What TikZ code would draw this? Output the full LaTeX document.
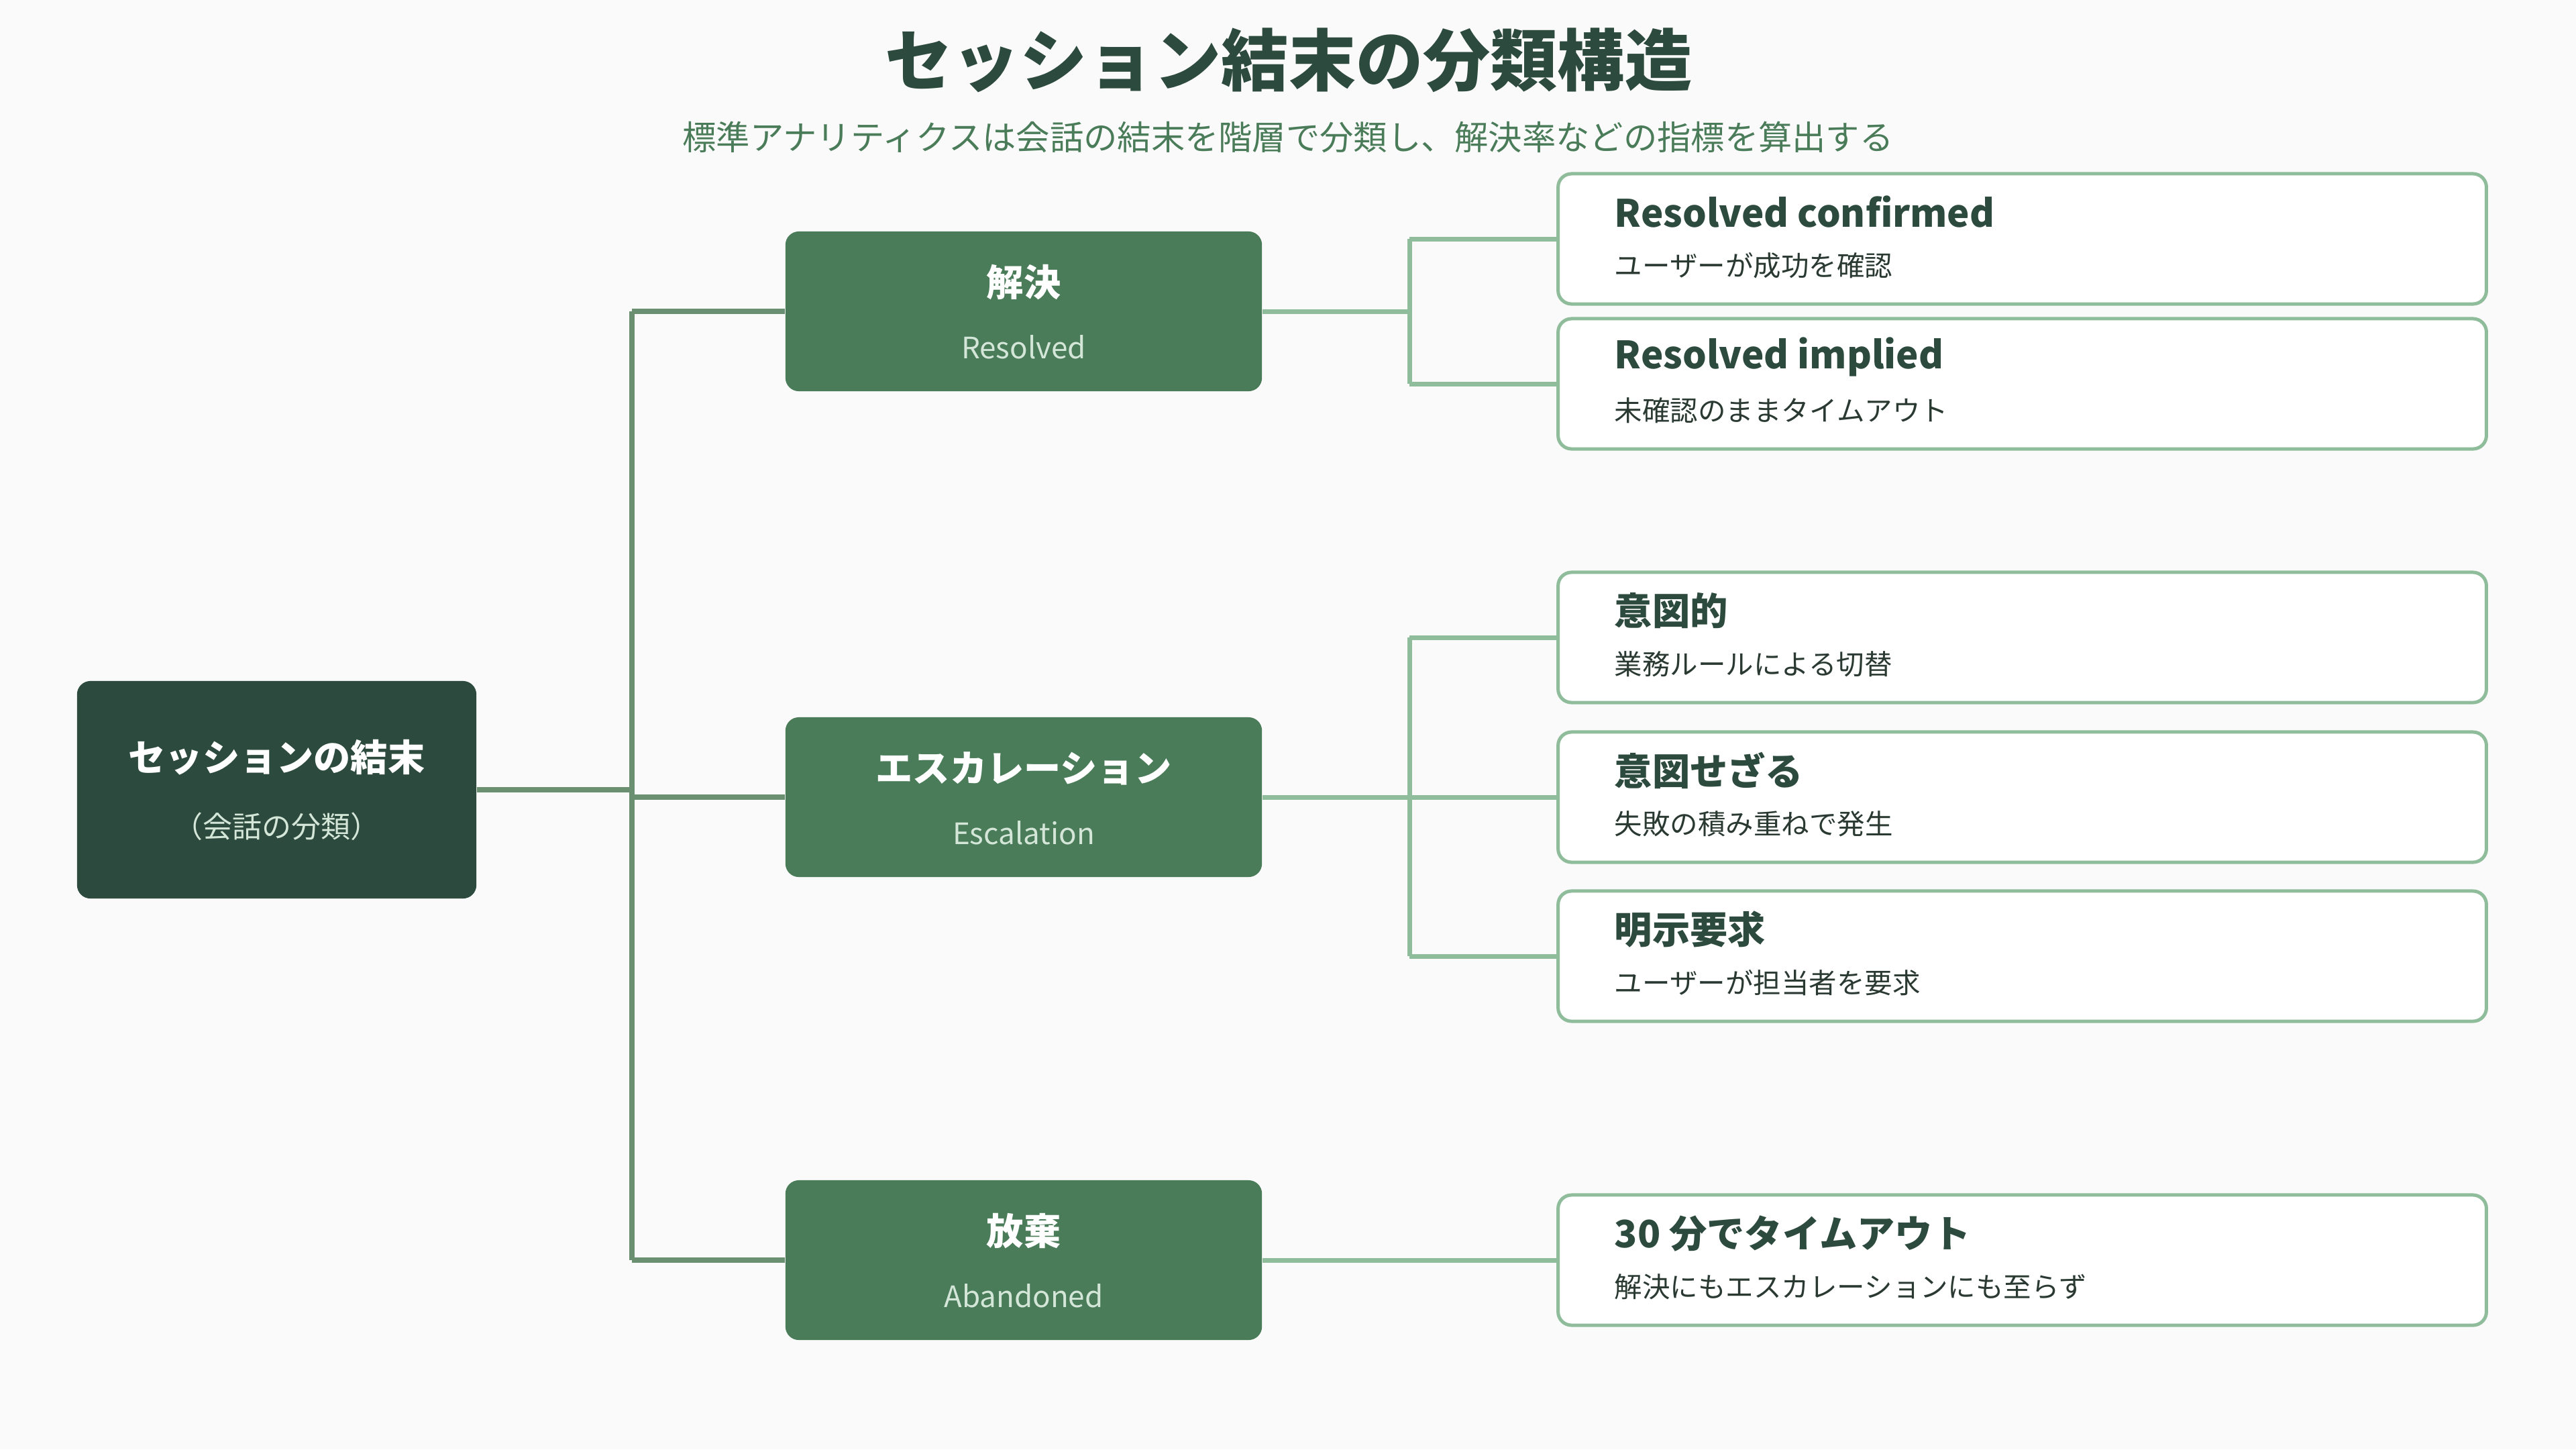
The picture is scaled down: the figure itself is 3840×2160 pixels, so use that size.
\documentclass[tikz,border=0pt]{standalone}
\usepackage{fontspec}
\setmainfont{Noto Sans CJK JP}
\usetikzlibrary{calc}
\definecolor{bgc}{HTML}{FAFAFA}
\definecolor{rootc}{HTML}{2D4A3E}
\definecolor{midc}{HTML}{4A7C59}
\definecolor{leafc}{HTML}{8FBC9A}
\definecolor{trunkc}{HTML}{6B8F71}
\definecolor{subc}{HTML}{D4E6D8}
\definecolor{descc}{HTML}{2A3A32}
\pgfdeclarelayer{bglayer}
\pgfdeclarelayer{linelayer}
\pgfsetlayers{bglayer,linelayer,main}
\tikzset{
  rootbox/.style={fill=rootc, rounded corners=0.2cm, minimum width=5.95cm, minimum height=3.24cm, inner sep=0pt},
  midbox/.style={fill=midc, rounded corners=0.2cm, minimum width=7.1cm, minimum height=2.38cm, inner sep=0pt},
  leafbox/.style={fill=white, draw=leafc, line width=0.05cm, rounded corners=0.2cm, minimum width=13.83cm, minimum height=1.94cm, inner sep=0pt},
  boxtitle/.style={text=white, font=\fontsize{15.7}{19}\selectfont\bfseries, inner sep=0pt},
  boxsub/.style={text=subc, font=\fontsize{12.5}{15}\selectfont, inner sep=0pt},
  leaftitle/.style={text=rootc, font=\fontsize{16}{19}\selectfont\bfseries, inner sep=0pt, anchor=west},
  leafdesc/.style={text=descc, font=\fontsize{11.8}{14}\selectfont, inner sep=0pt, anchor=west},
  trunk/.style={draw=trunkc, line width=0.08cm},
  branch/.style={draw=leafc, line width=0.07cm},
}
\begin{document}
\begin{tikzpicture}[x=0.01cm,y=-0.01cm]
\begin{pgfonlayer}{bglayer}
\fill[bgc] (0,0) rectangle (3840,2160);
\end{pgfonlayer}
\useasboundingbox (0,0) rectangle (3840,2160);

% titles
\node[text=rootc, font=\fontsize{28.5}{34}\selectfont\bfseries, inner sep=0pt] (title) at (1921,90) {セッション結末の分類構造};
\node[text=midc, font=\fontsize{14.3}{17}\selectfont, inner sep=0pt] (subtitle) at (1920,204) {標準アナリティクスは会話の結末を階層で分類し、解決率などの指標を算出する};

% root
\node[rootbox] (root) at (412.5,1177) {};
\node[boxtitle] (roott) at ($(root.center)+(0,-48)$) {セッションの結末};
\node[boxsub] (roots) at ($(root.center)+(0,55)$) {（会話の分類）};

% middle nodes
\node[midbox] (m1) at (1526,464) {};
\node[boxtitle] (m1t) at ($(m1.center)+(0,-43)$) {解決};
\node[boxsub] (m1s) at ($(m1.center)+(0,53)$) {Resolved};

\node[midbox] (m2) at (1526,1188) {};
\node[boxtitle] (m2t) at ($(m2.center)+(0,-43)$) {エスカレーション};
\node[boxsub] (m2s) at ($(m2.center)+(0,53)$) {Escalation};

\node[midbox] (m3) at (1526,1878) {};
\node[boxtitle] (m3t) at ($(m3.center)+(0,-43)$) {放棄};
\node[boxsub] (m3s) at ($(m3.center)+(0,53)$) {Abandoned};

% leaves
\node[leafbox] (l1) at (3014.5,356) {};
\node[leaftitle] (l1t) at ($(l1.west)+(86,-40)$) {Resolved confirmed};
\node[leafdesc] (l1d) at ($(l1.west)+(86,40)$) {ユーザーが成功を確認};

\node[leafbox] (l2) at (3014.5,572) {};
\node[leaftitle] (l2t) at ($(l2.west)+(86,-40)$) {Resolved implied};
\node[leafdesc] (l2d) at ($(l2.west)+(86,40)$) {未確認のままタイムアウト};

\node[leafbox] (l3) at (3014.5,950) {};
\node[leaftitle] (l3t) at ($(l3.west)+(86,-40)$) {意図的};
\node[leafdesc] (l3d) at ($(l3.west)+(86,40)$) {業務ルールによる切替};

\node[leafbox] (l4) at (3014.5,1188) {};
\node[leaftitle] (l4t) at ($(l4.west)+(86,-40)$) {意図せざる};
\node[leafdesc] (l4d) at ($(l4.west)+(86,40)$) {失敗の積み重ねで発生};

\node[leafbox] (l5) at (3014.5,1425) {};
\node[leaftitle] (l5t) at ($(l5.west)+(86,-40)$) {明示要求};
\node[leafdesc] (l5d) at ($(l5.west)+(86,40)$) {ユーザーが担当者を要求};

\node[leafbox] (l6) at (3014.5,1878) {};
\node[leaftitle] (l6t) at ($(l6.west)+(86,-40)$) {30 分でタイムアウト};
\node[leafdesc] (l6d) at ($(l6.west)+(86,40)$) {解決にもエスカレーションにも至らず};

\coordinate (tk) at (942,0);
\coordinate (bk) at (2101,0);

\begin{pgfonlayer}{linelayer}
% trunk
\draw[trunk] (root.east) -- (root.east -| tk);
\draw[trunk] (m1.west -| tk) -- (m3.west -| tk);
\draw[trunk] (m1.west -| tk) -- (m1.west);
\draw[trunk] (m2.west -| tk) -- (m2.west);
\draw[trunk] (m3.west -| tk) -- (m3.west);
% resolved branch
\draw[branch] (m1.east) -- (m1.east -| bk);
\draw[branch] (l1.west -| bk) -- (l2.west -| bk);
\draw[branch] (l1.west -| bk) -- (l1.west);
\draw[branch] (l2.west -| bk) -- (l2.west);
% escalation branch
\draw[branch] (m2.east) -- (m2.east -| bk);
\draw[branch] (l3.west -| bk) -- (l5.west -| bk);
\draw[branch] (l3.west -| bk) -- (l3.west);
\draw[branch] (l4.west -| bk) -- (l4.west);
\draw[branch] (l5.west -| bk) -- (l5.west);
% abandoned branch
\draw[branch] (m3.east) -- (l6.west);
\end{pgfonlayer}
\end{tikzpicture}
\end{document}
